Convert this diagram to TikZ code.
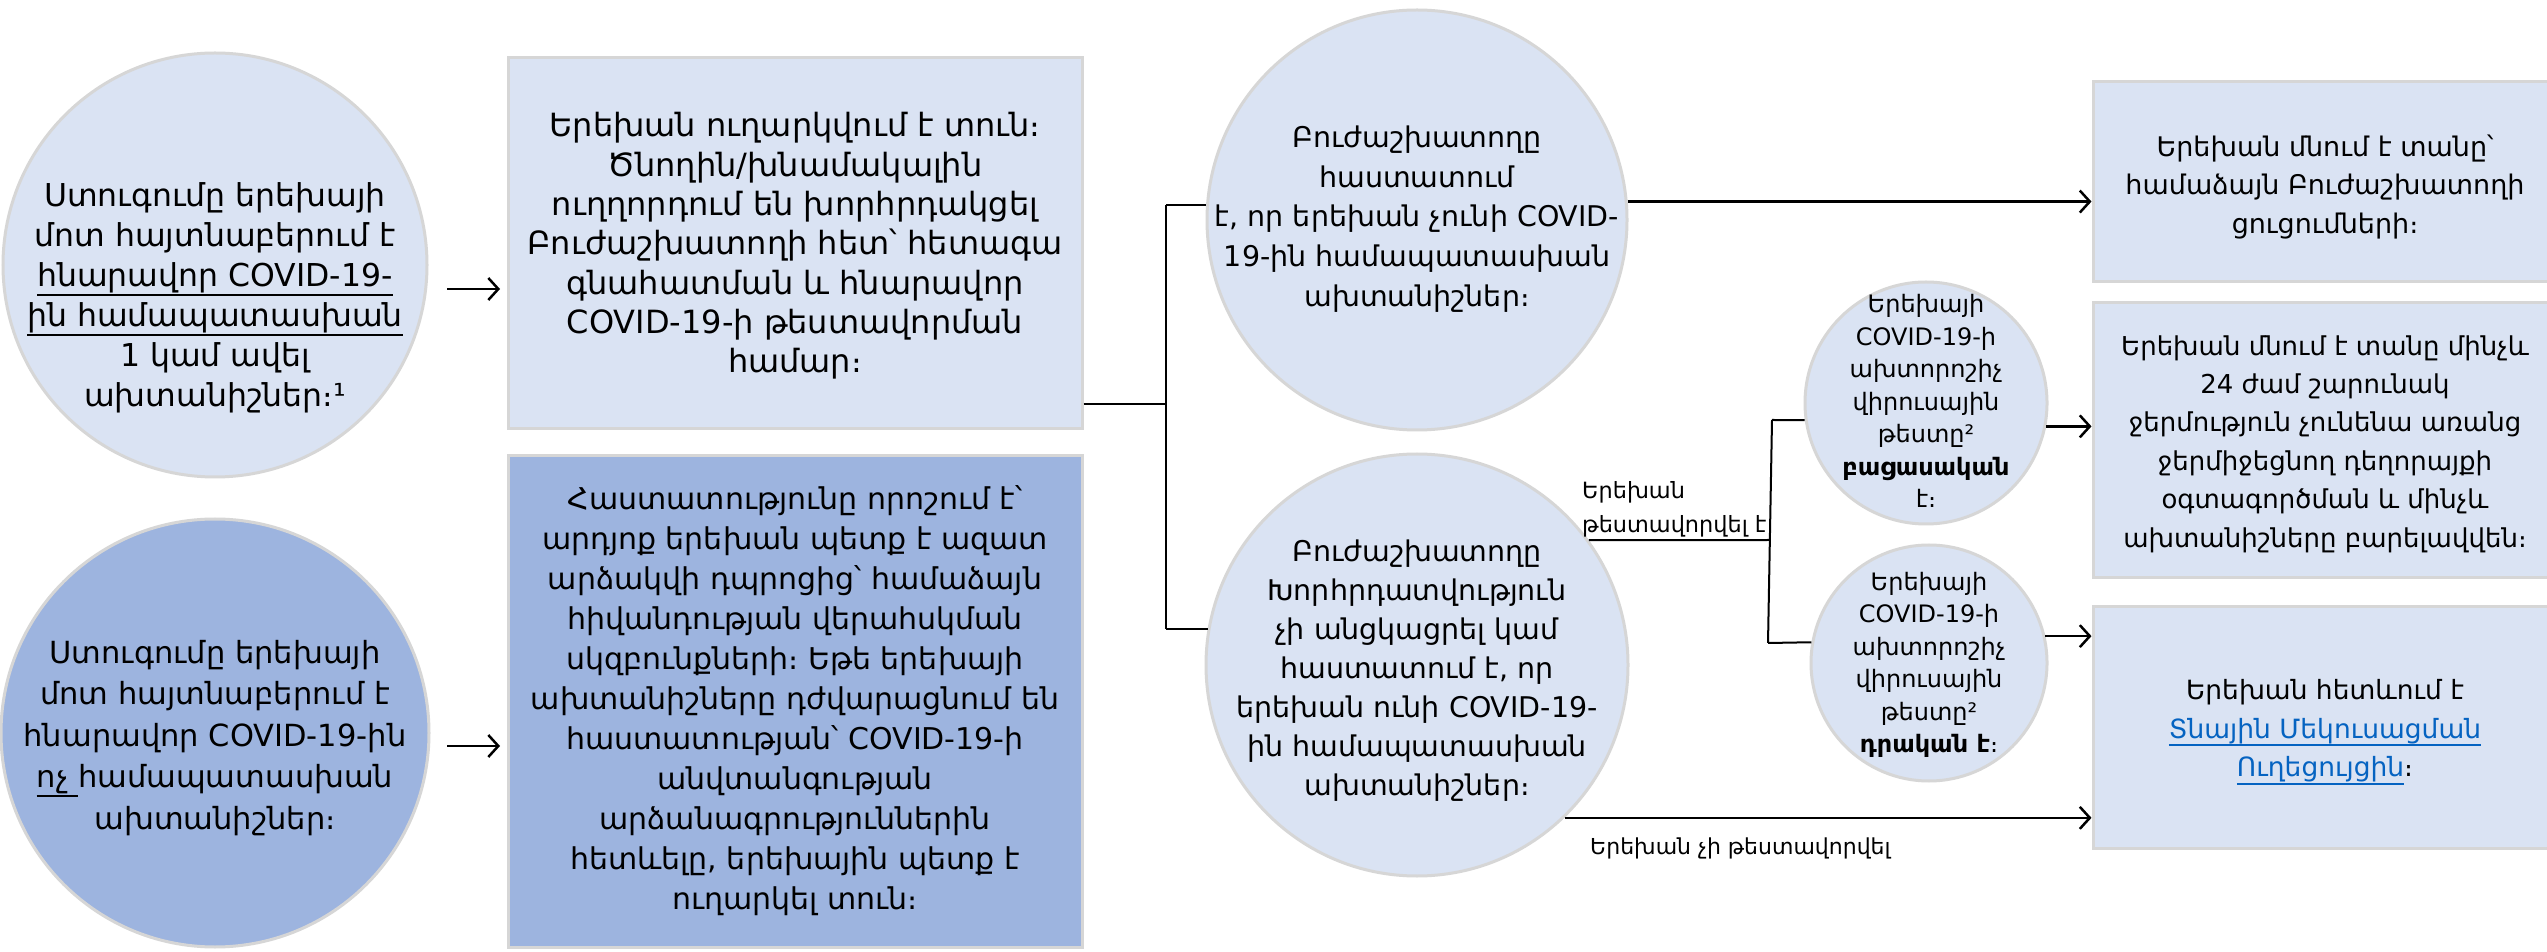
\documentclass[tikz,border=0pt]{standalone}
\usepackage{fontspec}
\setmainfont{DejaVu Sans}
\usetikzlibrary{arrows.meta}
\definecolor{light}{HTML}{DAE3F3}
\definecolor{dark}{HTML}{9DB4DF}
\definecolor{bord}{HTML}{D6D6D6}
\definecolor{linkc}{HTML}{0563C1}
\newsavebox\ulbox
\newcommand\ulx[1]{\sbox\ulbox{#1}\leavevmode\rlap{\rule[-0.3em]{\wd\ulbox}{0.06em}}\usebox\ulbox}
\newcommand\lnk[1]{{\color{linkc}\ulx{#1}}}
\newcommand\fsz[2]{\fontsize{#1}{#2}\selectfont}
\begin{document}
\begin{tikzpicture}[x=1pt,y=1pt,
  shp/.style={draw=bord, line width=3pt, inner sep=0pt},
  lc/.style={shp, circle, fill=light},
  dc/.style={shp, circle, fill=dark},
  lb/.style={shp, rectangle, fill=light},
  db/.style={shp, rectangle, fill=dark},
  txt/.style={align=center, inner sep=0pt},
  lab/.style={align=left, inner sep=0pt},
  conn/.style={line width=2pt, draw=black},
  arr/.style={line width=2.5pt, draw=black, -{Straight Barb[length=10pt,width=22pt]}}
]
\useasboundingbox (0,0) rectangle (2547,951);
\fill[white] (0,0) rectangle (2547,951);

% shapes
\node[lc, minimum size=424] (c1) at (215,686) {};
\node[dc, minimum size=428] (c2) at (215,218) {};
\node[lb, minimum width=574, minimum height=371] (b1) at (795,707.5) {};
\node[db, minimum width=574, minimum height=491] (b2) at (795,249.5) {};
\node[lc, minimum size=420] (c3) at (1417,731) {};
\node[lc, minimum size=422] (c4) at (1417,286) {};
\node[lc, minimum size=242] (c5) at (1926,548) {};
\node[lc, minimum size=236] (c6) at (1929,288) {};
\node[lb, minimum width=470, minimum height=200] (b3) at (2328,769) {};
\node[lb, minimum width=470, minimum height=275] (b4) at (2328,510.5) {};
\node[lb, minimum width=470, minimum height=241] (b5) at (2328,223.5) {};

% texts
\node[txt, font=\fsz{31.5}{40}] (c1t) at (215,653) {Ստուգումը երեխայի\\մոտ հայտնաբերում է\\\ulx{հնարավոր COVID-19-}\\\ulx{ին համապատասխան}\\1 կամ ավել\\ախտանիշներ։¹};
\node[txt, font=\fsz{30.5}{41.5}] (c2t) at (215,213) {Ստուգումը երեխայի\\մոտ հայտնաբերում է\\հնարավոր COVID-19-ին\\\ulx{ոչ\ }համապատասխան\\ախտանիշներ։};
\node[txt, font=\fsz{32}{39.3}] (b1t) at (795,705) {Երեխան ուղարկվում է տուն։\\Ծնողին/խնամակալին\\ուղղորդում են խորհրդակցել\\Բուժաշխատողի հետ՝ հետագա\\գնահատման և հնարավոր\\COVID-19-ի թեստավորման\\համար։};
\node[txt, font=\fsz{30}{40}] (b2t) at (795,250) {Հաստատությունը որոշում է՝\\արդյոք երեխան պետք է ազատ\\արձակվի դպրոցից՝ համաձայն\\հիվանդության վերահսկման\\սկզբունքների։ Եթե երեխայի\\ախտանիշները դժվարացնում են\\հաստատության՝ COVID-19-ի\\անվտանգության\\արձանագրություններին\\հետևելը, երեխային պետք է\\ուղարկել տուն։};
\node[txt, font=\fsz{28.5}{39.6}] (c3t) at (1417,732) {Բուժաշխատողը\\հաստատում\\է, որ երեխան չունի COVID-\\19-ին համապատասխան\\ախտանիշներ։};
\node[txt, font=\fsz{28.5}{39}] (c4t) at (1417,280) {Բուժաշխատողը\\Խորհրդատվություն\\չի անցկացրել կամ\\հաստատում է, որ\\երեխան ունի COVID-19-\\ին համապատասխան\\ախտանիշներ։};
\node[txt, font=\fsz{24}{32.5}] (c5t) at (1926,550) {Երեխայի\\COVID-19-ի\\ախտորոշիչ\\վիրուսային\\թեստը²\\\textbf{բացասական}\\է։};
\node[txt, font=\fsz{24}{32.5}] (c6t) at (1929,286) {Երեխայի\\COVID-19-ի\\ախտորոշիչ\\վիրուսային\\թեստը²\\\textbf{դրական է}։};
\node[txt, font=\fsz{27}{38.5}] (b3t) at (2325,764) {Երեխան մնում է տանը՝\\համաձայն Բուժաշխատողի\\ցուցումների։};
\node[txt, font=\fsz{26}{38.4}] (b4t) at (2325,507) {Երեխան մնում է տանը մինչև\\24 ժամ շարունակ\\ջերմություն չունենա առանց\\ջերմիջեցնող դեղորայքի\\օգտագործման և մինչև\\ախտանիշները բարելավվեն։};
\node[txt, font=\fsz{26.5}{38.5}] (b5t) at (2325,219) {Երեխան հետևում է\\\lnk{Տնային Մեկուսացման}\\\lnk{Ուղեցույցին}։};

% connectors
\coordinate (a1s) at (447,662);
\coordinate (a1e) at (500,662);
\draw[arr] (a1s) -- (a1e);
\coordinate (a2s) at (447,205);
\coordinate (a2e) at (500,205);
\draw[arr] (a2s) -- (a2e);

\coordinate (j1) at (1166,547);
\coordinate (j1t) at (1166,746);
\coordinate (j1b) at (1166,322);
\draw[conn] (b1.east |- j1) -- (j1);
\draw[conn] (j1t) -- (j1b);
\draw[conn] (j1t) -- (c3.176 |- j1t);
\draw[conn] (j1b) -- (c4.170 |- j1b);

\draw[arr] (c3.5) -- (b3.west |- c3.5);

\coordinate (j2) at (1770,411);
\coordinate (j2t) at (1772,531);
\coordinate (j2b) at (1768,308);
\draw[conn] (c4.36) -- (j2);
\draw[conn] (j2t) -- (j2b);
\draw[conn] (j2t) -- (c5.188);
\draw[conn] (j2b) -- (c6.170);

\draw[arr] (c5.-11) -- (b4.west |- c5.-11);
\draw[arr] (c6.13) -- (b5.west |- c6.13);
\draw[arr] (c4.-46) -- (b5.west |- c4.-46);

\node[lab, font=\fsz{22.4}{34}, anchor=south west] (l1) at (1582,414) {Երեխան\\թեստավորվել է};
\node[lab, font=\fsz{22}{30}, anchor=north west] (l2) at (1590,113) {Երեխան չի թեստավորվել};
\end{tikzpicture}
\end{document}
